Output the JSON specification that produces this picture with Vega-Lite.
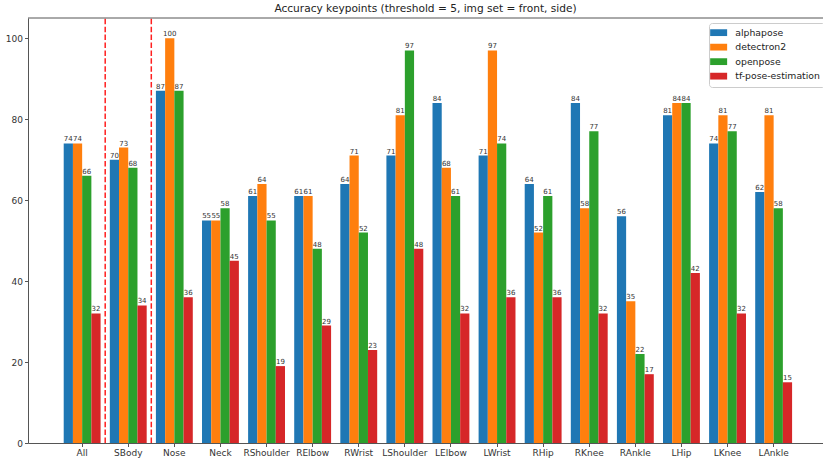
{
  "$schema": "https://vega.github.io/schema/vega-lite/v6.json",
  "width": 795,
  "height": 425,
  "autosize": {"type": "none"},
  "padding": {"left": 28, "top": 18, "right": 0, "bottom": 18},
  "title": {
    "text": "Accuracy keypoints (threshold = 5, img set = front, side)",
    "fontSize": 10.6,
    "fontWeight": "normal",
    "font": "DejaVu Sans",
    "color": "#222222",
    "offset": 2.5
  },
  "config": {
    "view": {"stroke": null},
    "font": "DejaVu Sans",
    "axis": {
      "domainColor": "#555555",
      "tickColor": "#555555",
      "labelColor": "#333333",
      "labelFontSize": 9,
      "labelFont": "DejaVu Sans",
      "tickSize": 3.5,
      "grid": false,
      "title": null
    }
  },
  "datasets": {
    "scores": [
      {"joint": "All", "model": "alphapose", "accuracy": 74},
      {"joint": "All", "model": "detectron2", "accuracy": 74},
      {"joint": "All", "model": "openpose", "accuracy": 66},
      {"joint": "All", "model": "tf-pose-estimation", "accuracy": 32},
      {"joint": "SBody", "model": "alphapose", "accuracy": 70},
      {"joint": "SBody", "model": "detectron2", "accuracy": 73},
      {"joint": "SBody", "model": "openpose", "accuracy": 68},
      {"joint": "SBody", "model": "tf-pose-estimation", "accuracy": 34},
      {"joint": "Nose", "model": "alphapose", "accuracy": 87},
      {"joint": "Nose", "model": "detectron2", "accuracy": 100},
      {"joint": "Nose", "model": "openpose", "accuracy": 87},
      {"joint": "Nose", "model": "tf-pose-estimation", "accuracy": 36},
      {"joint": "Neck", "model": "alphapose", "accuracy": 55},
      {"joint": "Neck", "model": "detectron2", "accuracy": 55},
      {"joint": "Neck", "model": "openpose", "accuracy": 58},
      {"joint": "Neck", "model": "tf-pose-estimation", "accuracy": 45},
      {"joint": "RShoulder", "model": "alphapose", "accuracy": 61},
      {"joint": "RShoulder", "model": "detectron2", "accuracy": 64},
      {"joint": "RShoulder", "model": "openpose", "accuracy": 55},
      {"joint": "RShoulder", "model": "tf-pose-estimation", "accuracy": 19},
      {"joint": "RElbow", "model": "alphapose", "accuracy": 61},
      {"joint": "RElbow", "model": "detectron2", "accuracy": 61},
      {"joint": "RElbow", "model": "openpose", "accuracy": 48},
      {"joint": "RElbow", "model": "tf-pose-estimation", "accuracy": 29},
      {"joint": "RWrist", "model": "alphapose", "accuracy": 64},
      {"joint": "RWrist", "model": "detectron2", "accuracy": 71},
      {"joint": "RWrist", "model": "openpose", "accuracy": 52},
      {"joint": "RWrist", "model": "tf-pose-estimation", "accuracy": 23},
      {"joint": "LShoulder", "model": "alphapose", "accuracy": 71},
      {"joint": "LShoulder", "model": "detectron2", "accuracy": 81},
      {"joint": "LShoulder", "model": "openpose", "accuracy": 97},
      {"joint": "LShoulder", "model": "tf-pose-estimation", "accuracy": 48},
      {"joint": "LElbow", "model": "alphapose", "accuracy": 84},
      {"joint": "LElbow", "model": "detectron2", "accuracy": 68},
      {"joint": "LElbow", "model": "openpose", "accuracy": 61},
      {"joint": "LElbow", "model": "tf-pose-estimation", "accuracy": 32},
      {"joint": "LWrist", "model": "alphapose", "accuracy": 71},
      {"joint": "LWrist", "model": "detectron2", "accuracy": 97},
      {"joint": "LWrist", "model": "openpose", "accuracy": 74},
      {"joint": "LWrist", "model": "tf-pose-estimation", "accuracy": 36},
      {"joint": "RHip", "model": "alphapose", "accuracy": 64},
      {"joint": "RHip", "model": "detectron2", "accuracy": 52},
      {"joint": "RHip", "model": "openpose", "accuracy": 61},
      {"joint": "RHip", "model": "tf-pose-estimation", "accuracy": 36},
      {"joint": "RKnee", "model": "alphapose", "accuracy": 84},
      {"joint": "RKnee", "model": "detectron2", "accuracy": 58},
      {"joint": "RKnee", "model": "openpose", "accuracy": 77},
      {"joint": "RKnee", "model": "tf-pose-estimation", "accuracy": 32},
      {"joint": "RAnkle", "model": "alphapose", "accuracy": 56},
      {"joint": "RAnkle", "model": "detectron2", "accuracy": 35},
      {"joint": "RAnkle", "model": "openpose", "accuracy": 22},
      {"joint": "RAnkle", "model": "tf-pose-estimation", "accuracy": 17},
      {"joint": "LHip", "model": "alphapose", "accuracy": 81},
      {"joint": "LHip", "model": "detectron2", "accuracy": 84},
      {"joint": "LHip", "model": "openpose", "accuracy": 84},
      {"joint": "LHip", "model": "tf-pose-estimation", "accuracy": 42},
      {"joint": "LKnee", "model": "alphapose", "accuracy": 74},
      {"joint": "LKnee", "model": "detectron2", "accuracy": 81},
      {"joint": "LKnee", "model": "openpose", "accuracy": 77},
      {"joint": "LKnee", "model": "tf-pose-estimation", "accuracy": 32},
      {"joint": "LAnkle", "model": "alphapose", "accuracy": 62},
      {"joint": "LAnkle", "model": "detectron2", "accuracy": 81},
      {"joint": "LAnkle", "model": "openpose", "accuracy": 58},
      {"joint": "LAnkle", "model": "tf-pose-estimation", "accuracy": 15}
    ],
    "separators": [
      {"joint": "SBody"},
      {"joint": "Nose"}
    ],
    "frame": [
      {"top": 105}
    ]
  },
  "layer": [
    {
      "data": {"name": "scores"},
      "mark": {"type": "bar"},
      "encoding": {
        "x": {
          "field": "joint",
          "type": "nominal",
          "sort": null,
          "scale": {
            "domain": ["All", "SBody", "Nose", "Neck", "RShoulder", "RElbow", "RWrist", "LShoulder", "LElbow", "LWrist", "RHip", "RKnee", "RAnkle", "LHip", "LKnee", "LAnkle"],
            "paddingInner": 0.2,
            "paddingOuter": 0.7226,
            "align": 0.536
          },
          "axis": {"labelAngle": 0, "labelPadding": 2}
        },
        "xOffset": {
          "field": "model",
          "type": "nominal",
          "scale": {
            "domain": ["alphapose", "detectron2", "openpose", "tf-pose-estimation"],
            "paddingInner": 0,
            "paddingOuter": 0
          }
        },
        "y": {
          "field": "accuracy",
          "type": "quantitative",
          "scale": {"domain": [0, 105], "nice": false, "zero": true},
          "axis": {"values": [0, 20, 40, 60, 80, 100], "labelPadding": 2}
        },
        "color": {
          "field": "model",
          "type": "nominal",
          "scale": {
            "domain": ["alphapose", "detectron2", "openpose", "tf-pose-estimation"],
            "range": ["#1f77b4", "#ff7f0e", "#2ca02c", "#d62728"]
          },
          "legend": {
            "title": null,
            "orient": "none",
            "legendX": 681,
            "legendY": 5,
            "fillColor": "white",
            "strokeColor": "#cccccc",
            "cornerRadius": 3,
            "padding": 5,
            "rowPadding": 4.5,
            "labelFontSize": 9.3,
            "labelColor": "#222222",
            "labelFont": "DejaVu Sans",
            "labelOffset": 12,
            "symbolType": "M-2,-0.8H2V0.8H-2Z",
            "symbolSize": 72,
            "symbolStrokeWidth": 0,
            "symbolOpacity": 1
          }
        }
      }
    },
    {
      "data": {"name": "scores"},
      "mark": {"type": "text", "baseline": "bottom", "dy": -1, "fontSize": 7, "color": "#333333", "font": "DejaVu Sans"},
      "encoding": {
        "x": {"field": "joint", "type": "nominal", "sort": null},
        "xOffset": {"field": "model", "type": "nominal"},
        "y": {"field": "accuracy", "type": "quantitative"},
        "text": {"field": "accuracy", "type": "quantitative", "format": "d"}
      }
    },
    {
      "data": {"name": "separators"},
      "mark": {"type": "rule", "color": "#ff2020", "strokeWidth": 1.5, "strokeDash": [5.5, 2.4]},
      "encoding": {
        "x": {"field": "joint", "type": "nominal", "sort": null, "bandPosition": -0.125},
        "y": {"datum": 0},
        "y2": {"datum": 105}
      }
    },
    {
      "data": {"name": "frame"},
      "mark": {"type": "rule", "color": "#555555", "strokeWidth": 1},
      "encoding": {
        "y": {"field": "top", "type": "quantitative"}
      }
    }
  ]
}
